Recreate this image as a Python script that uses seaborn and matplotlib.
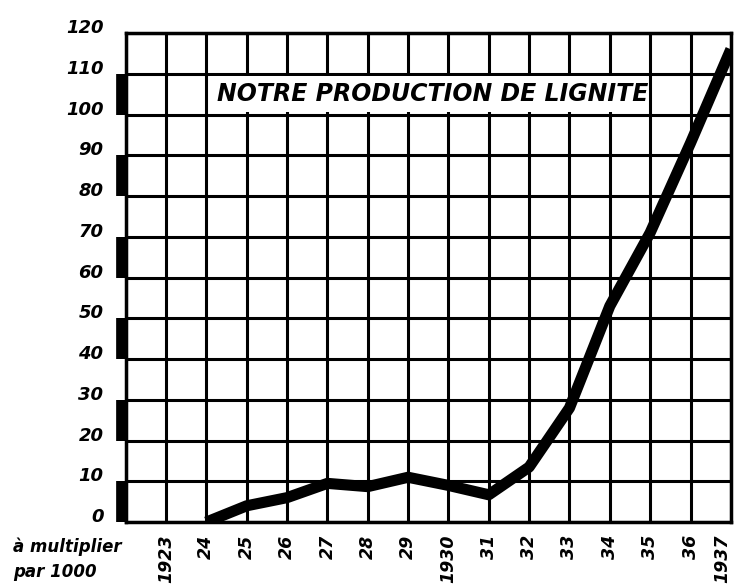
import matplotlib
matplotlib.use("Agg")
import matplotlib.pyplot as plt
import seaborn as sns
import pandas as pd

# lignite production, in thousands
years = [1924, 1925, 1926, 1927, 1928, 1929, 1930, 1931, 1932, 1933, 1934, 1935, 1936, 1937]
production = [0, 4, 6, 9.5, 8.7, 11, 9, 6.7, 13.5, 28, 53, 71, 93, 116]

x_ticks = list(range(1922, 1938))
x_labels = ["", "1923", "24", "25", "26", "27", "28", "29", "1930",
            "31", "32", "33", "34", "35", "36", "1937"]
y_ticks = list(range(0, 121, 10))
band_starts = [0, 20, 40, 60, 80, 100]

df = pd.DataFrame({"year": years, "production": production})

sns.set_style("white")
plt.rcParams['font.family'] = ['DejaVu Sans']
plt.rcParams['text.color'] = 'black'
plt.rcParams['xtick.color'] = 'black'
plt.rcParams['ytick.color'] = 'black'

fig = plt.figure(figsize=(7.36, 5.84), dpi=100)
ax = fig.add_axes([0.1707, 0.106, 0.8223, 0.8375])

sns.lineplot(data=df, x="year", y="production", ax=ax, color="black",
             linewidth=8, solid_capstyle="butt", zorder=5)

ax.set_xlim(1922, 1937)
ax.set_ylim(0, 120)
ax.set_xticks(x_ticks)
ax.set_xticklabels(x_labels, rotation=90, fontsize=12.5, fontweight="bold",
                   fontstyle="italic", va="top")
ax.get_xticklabels()[-1].set_ha("right")
ax.set_yticks(y_ticks)
ax.set_yticklabels([str(v) for v in y_ticks], fontsize=13, fontweight="bold",
                   fontstyle="italic", va="baseline")
ax.tick_params(axis="both", length=0)
ax.tick_params(axis="x", pad=9)
ax.tick_params(axis="y", pad=16)
ax.set_xlabel("")
ax.set_ylabel("")

ax.grid(True, color="black", linewidth=2.2)
ax.set_axisbelow(True)
for s in ax.spines.values():
    s.set_color("black")
    s.set_linewidth(2.5)

# thick alternating bands on the left axis
for b in band_starts:
    ax.plot([1921.88, 1921.88], [b, b + 10], color="black", linewidth=7,
            solid_capstyle="butt", clip_on=False, zorder=6)

# title box
ax.add_patch(plt.Rectangle((1924.1, 100.5), 10.8, 9.0, facecolor="white",
                           edgecolor="none", zorder=3))
ax.text(1929.6, 105, "NOTRE PRODUCTION DE LIGNITE", ha="center", va="center",
        fontsize=17, fontweight="bold", fontstyle="italic", zorder=4)

fig.text(0.018, 0.055, "à multiplier", fontsize=12, fontweight="bold",
         fontstyle="italic", va="baseline")
fig.text(0.018, 0.012, "par 1000", fontsize=12, fontweight="bold",
         fontstyle="italic", va="baseline")

fig.savefig("out.png", dpi=100)
